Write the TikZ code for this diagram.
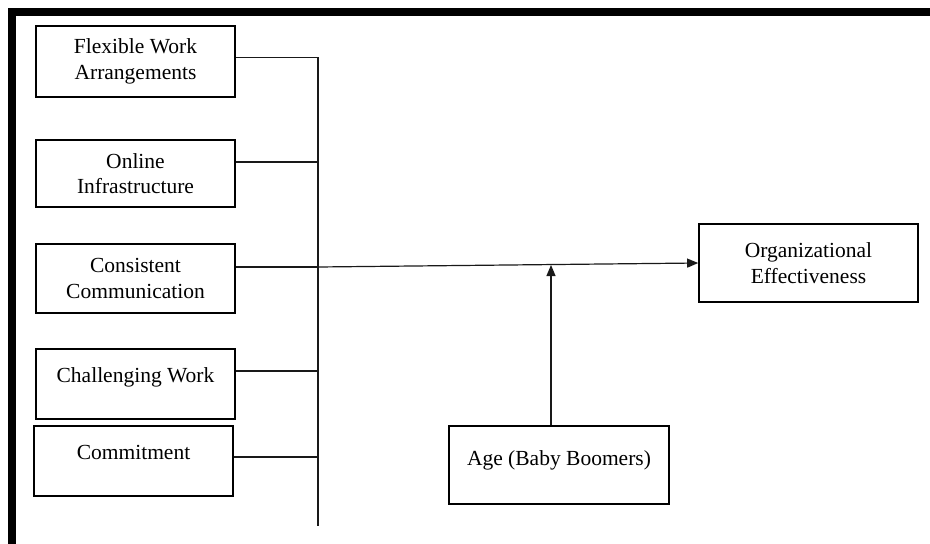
\documentclass[tikz,border=0pt]{standalone}
\usepackage{fontspec}
\setmainfont{Liberation Serif}
\usetikzlibrary{arrows.meta}

\begin{document}
\begin{tikzpicture}[x=1pt, y=-1pt,
    box/.style={draw, line width=1.6pt, minimum width=199pt, inner sep=0pt,
      align=center, font=\fontsize{21.5}{25.5}\selectfont},
    toptext/.style={text height=14pt, text depth=18pt},
    wire/.style={line width=1.2pt, draw=black!90},
    arrowtip/.style={wire, -{Triangle[length=11pt, width=9pt]}}]

    % Fix the page size
    \useasboundingbox (0,0) rectangle (930,544);

    % Draw the frame (top and left bars)
    \fill (8,8) rectangle (930,16);
    \fill (8,8) rectangle (16,544);

    % Place the independent variables
    \node[box, minimum height=71pt] (flex) at (135.5,61.5) {Flexible Work\\Arrangements};
    \node[box, minimum height=67pt] (online) at (135.5,173.5) {Online\\Infrastructure};
    \node[box, minimum height=69pt] (consist) at (135.5,278.5) {Consistent\\Communication};
    \node[box, toptext, minimum height=70pt] (chall) at (135.5,384) {Challenging Work};
    \node[box, toptext, text depth=17.5pt, minimum height=70pt] (commit) at (133.5,461) {Commitment};

    % Place the outcome and the moderator
    \node[box, minimum width=219pt, minimum height=78pt] (org) at (808.5,263) {Organizational\\Effectiveness};
    \node[box, toptext, text depth=14pt, minimum width=220pt, minimum height=78pt] (age) at (559,465) {Age (Baby Boomers)};

    % Define the points on the vertical line
    \coordinate (busTop) at (318,57);
    \coordinate (busBot) at (318,526);
    \coordinate (jflex) at (318,57.5);
    \coordinate (jonline) at (318,162);
    \coordinate (jcons) at (318,267);
    \coordinate (jchall) at (318,371);
    \coordinate (jcommit) at (318,457);
    \coordinate (mod) at (551,265);

    % Draw the vertical line and the branches
    \draw[wire] (busTop) -- (busBot);
    \draw[wire] (jflex -| flex.east) -- (jflex);
    \draw[wire] (jonline -| online.east) -- (jonline);
    \draw[wire] (jcons -| consist.east) -- (jcons);
    \draw[wire] (jchall -| chall.east) -- (jchall);
    \draw[wire] (jcommit -| commit.east) -- (jcommit);

    % Draw the arrows
    \draw[arrowtip] (jcons) -- (org.west);
    \draw[arrowtip] (mod |- age.north) -- (mod);

\end{tikzpicture}
\end{document}
